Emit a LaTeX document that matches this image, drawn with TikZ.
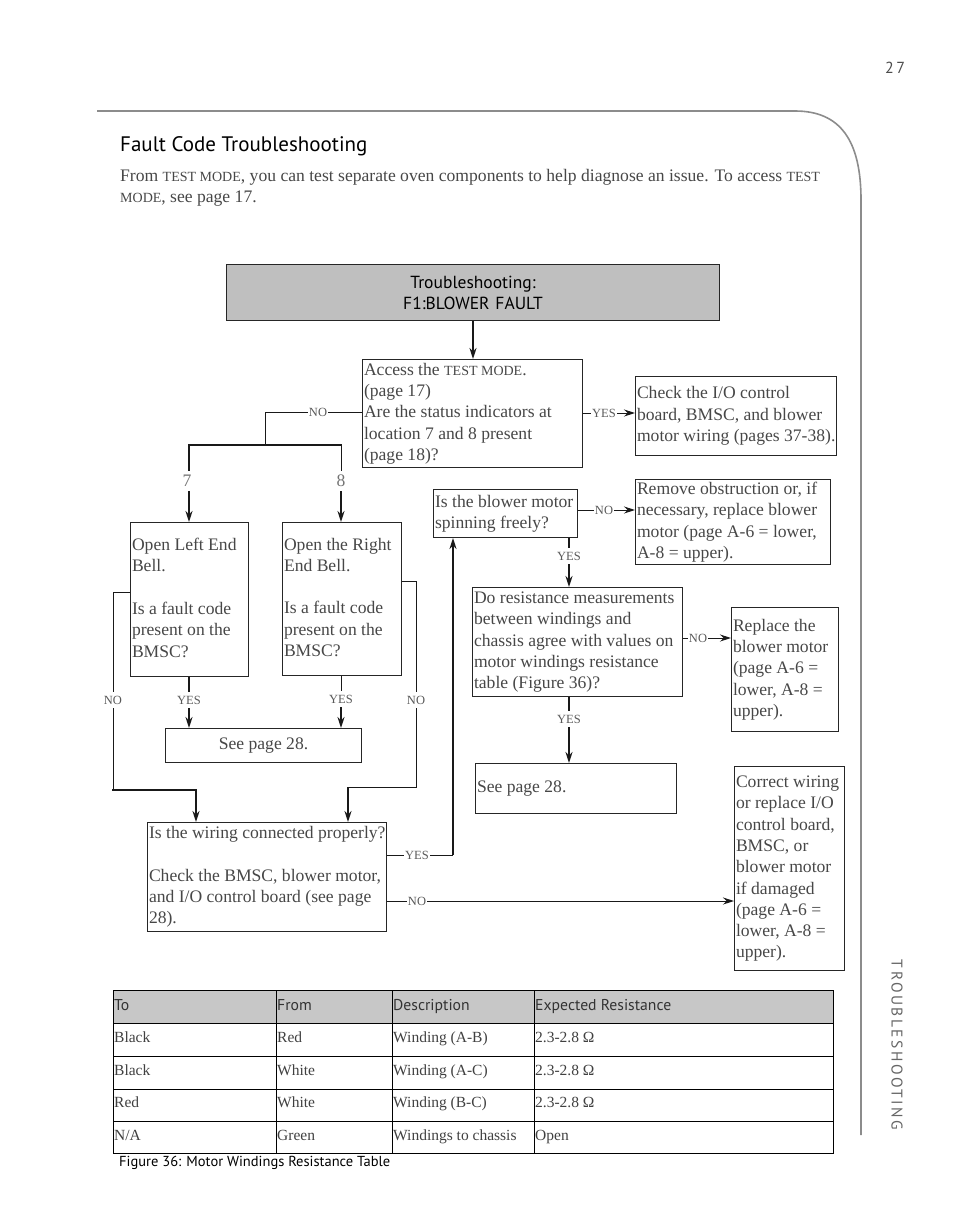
\documentclass[tikz,border=0pt]{standalone}
\usepackage{fontspec}
\setmainfont{Liberation Serif}
\newfontfamily\sansf{PT Sans}
\newfontfamily\sidef[LetterSpace=16]{PT Sans}
\usetikzlibrary{arrows.meta,calc}
\newcommand\bxfont{\fontsize{17.6}{21.3}\selectfont}
\newcommand\lbfont{\fontsize{12.5}{14}\selectfont}
\newcommand\smcA[1]{{\fontsize{14}{16}\selectfont #1}}
\newcommand\smcB[1]{{\fontsize{14}{16}\selectfont #1}}
\newcommand\bt[2]{\makebox[#1][l]{\begin{tabular}{@{}l@{}}#2\end{tabular}}}
\begin{document}
\begin{tikzpicture}[x=1pt,y=-1pt,
  box/.style={draw=black!85, line width=1pt, rectangle, inner xsep=1.5pt, inner ysep=0pt, anchor=north west, text=black!72, font=\bxfont},
  lab/.style={inner xsep=1pt, inner ysep=4pt, text=black!65, font=\lbfont},
  num/.style={inner sep=4pt, text=black!55, font=\bxfont},
  ln/.style={line width=1pt, draw=black!90},
  tk/.style={line width=2pt, draw=black!90},
  arr/.style={line width=2pt, draw=black!90, -{Stealth[length=11pt,width=7pt]}},
  arrt/.style={line width=1pt, draw=black!90, -{Stealth[length=11pt,width=7pt]}},
  th/.style={anchor=base west, inner sep=0pt, font=\sansf\fontsize{15.7}{18}\selectfont, text=black!80},
  td/.style={anchor=base west, inner sep=0pt, font=\fontsize{15.5}{18}\selectfont, text=black!75},
]
\useasboundingbox (0,0) rectangle (954,1207);

% page furniture
\node[text=black!70, font=\sidef\fontsize{16}{18}\selectfont] (pnum) at (895,68) {27};
\draw[black!45, line width=1.6pt] (97,111) -- (795,111) .. controls (840,111) and (861,140) .. (861,200) -- (861,1135);
\node[rotate=-90, text=black!60, font=\sidef\fontsize{15.5}{18}\selectfont] (side) at (897,1045) {TROUBLESHOOTING};

\node[anchor=west, inner sep=0pt, font=\sansf\fontsize{21}{24}\selectfont] (title) at (120,146) {Fault Code Troubleshooting};
\node[anchor=base west, inner sep=0pt, text=black!72, font=\fontsize{17.6}{21}\selectfont] (para1) at (120,181) {From \smcB{TEST MODE}, you can test separate oven components to help diagnose an issue. To access \smcB{TEST}};
\node[anchor=base west, inner sep=0pt, text=black!72, font=\fontsize{17.6}{21}\selectfont] (para2) at (120,202) {\smcB{MODE}, see page 17.};

% boxes
\node[box, minimum width=493pt, minimum height=56pt, fill=black!25, align=center, text width=488pt, text=black, font=\sansf\fontsize{17.5}{21}\selectfont] (top) at (226,264) {Troubleshooting:\\F1:BLOWER FAULT};
\node[box, minimum width=220pt, minimum height=108pt] (access) at (362,359) {\bt{217pt}{Access the \smcA{TEST MODE}.\\(page 17)\\Are the status indicators at\\location 7 and 8 present\\(page 18)?}};
\node[box, minimum width=201pt, minimum height=79pt] (check) at (635,376) {\bt{198pt}{Check the I/O control\\board, BMSC, and blower\\motor wiring (pages 37-38).}};
\node[box, minimum width=195pt, minimum height=85pt] (remove) at (635,479) {\bt{192pt}{Remove obstruction or, if\\necessary, replace blower\\motor (page A-6 = lower,\\A-8 = upper).}};
\node[box, minimum width=144pt, minimum height=48pt] (blower) at (433,489) {\bt{141pt}{Is the blower motor\\spinning freely?}};
\node[box, minimum width=118pt, minimum height=154pt] (leftbox) at (130,522) {\bt{115pt}{Open Left End\\Bell.\\ \\Is a fault code\\present on the\\BMSC?}};
\node[box, minimum width=119pt, minimum height=153pt] (rightbox) at (282,522) {\bt{116pt}{Open the Right\\End Bell.\\ \\Is a fault code\\present on the\\BMSC?}};
\node[box, minimum width=210pt, minimum height=109pt] (resist) at (472,587) {\bt{207pt}{Do resistance measurements\\between windings and\\chassis agree with values on\\motor windings resistance\\table (Figure 36)?}};
\node[box, minimum width=107pt, minimum height=124pt] (replace) at (731,607) {\bt{104pt}{Replace the\\blower motor\\(page A-6 =\\lower, A-8 =\\upper).}};
\node[box, minimum width=196pt, minimum height=34pt] (see1) at (165,728) {See page 28.};
\node[box, minimum width=201pt, minimum height=50pt] (see2) at (475,763) {\bt{198pt}{See page 28.}};
\node[box, minimum width=110pt, minimum height=204pt] (correct) at (734,766) {\bt{107pt}{Correct wiring\\or replace I/O\\control board,\\BMSC, or\\blower motor\\if damaged\\(page A-6 =\\lower, A-8 =\\upper).}};
\node[box, minimum width=239pt, minimum height=109pt] (wiring) at (147,822) {\bt{236pt}{Is the wiring connected properly?\\ \\Check the BMSC, blower motor,\\and I/O control board (see page\\28).}};

% top -> access
\draw[arr] (top.south) -- (top.south |- access.north);

% access YES
\node[lab] (y1) at (604,413) {YES};
\draw[ln] (access.east |- y1.west) -- (y1.west);
\draw[arrt] (y1.east) -- (check.west |- y1.east);

% access NO
\node[lab] (n1) at (318,412) {NO};
\draw[ln] (access.west |- n1.east) -- (n1.east);
\coordinate (s1) at (265,445);
\draw[ln] (n1.west) -| (s1);
\coordinate (c7) at (189,445);
\coordinate (c8) at (341,445);
\draw[tk, line cap=rect] (c7) -- (c8);
\node[num] (n7) at (187,481) {7};
\node[num] (n8) at (341,481) {8};
\draw[tk] (c7) -- (c7 |- n7.north);
\draw[ln] (c8) -- (c8 |- n8.north);
\draw[arr] (c7 |- n7.south) -- (c7 |- leftbox.north);
\draw[arr] (c8 |- n8.south) -- (c8 |- rightbox.north);

% left / right boxes YES
\node[lab] (yl) at (189,700) {YES};
\draw[tk] (leftbox.south -| yl) -- (yl.north);
\draw[arr] (yl.south) -- (yl.south |- see1.north);
\node[lab] (yr) at (341,699) {YES};
\draw[ln] (rightbox.south -| yr) -- (yr.north);
\draw[arr] (yr.south) -- (yr.south |- see1.north);

% left NO
\node[lab] (nl) at (113,700) {NO};
\coordinate (nlt) at (113,592);
\coordinate (nlb) at (113,790);
\coordinate (wl) at (196,790);
\draw[ln] (leftbox.west |- nlt) -- (nlt) -- (nl.north);
\draw[ln] (nl.south) -- (nlb);
\draw[tk, line cap=rect] (nlb) -- (wl);
\draw[arr] (wl) -- (wl |- wiring.north);

% right NO
\node[lab] (nr) at (416,700) {NO};
\coordinate (nrt) at (416,581);
\coordinate (nrb) at (416,787);
\coordinate (wr) at (348,787);
\draw[ln] (rightbox.east |- nrt) -- (nrt) -- (nr.north);
\draw[ln] (nr.south) -- (nrb) -- (wr);
\draw[arr] (wr) -- (wr |- wiring.north);

% wiring YES / NO
\node[lab] (yw) at (417,855) {YES};
\coordinate (yc) at (453,855);
\draw[ln] (wiring.east |- yw.west) -- (yw.west);
\draw[ln] (yw.east) -- (yc);
\draw[arr] (yc) -- (yc |- blower.south);
\node[lab] (nw) at (417,901) {NO};
\draw[ln] (wiring.east |- nw.west) -- (nw.west);
\draw[arrt] (nw.east) -- (correct.west |- nw.east);

% blower NO / YES
\node[lab] (nb) at (604,510) {NO};
\draw[ln] (blower.east |- nb.west) -- (nb.west);
\draw[arrt] (nb.east) -- (remove.west |- nb.east);
\node[lab] (yb) at (569,556) {YES};
\draw[tk] (yb.north |- blower.south) -- (yb.north);
\draw[arr] (yb.south) -- (yb.south |- resist.north);

% resistance NO / YES
\node[lab] (nres) at (698,638) {NO};
\draw[ln] (resist.east |- nres.west) -- (nres.west);
\draw[arrt] (nres.east) -- (replace.west |- nres.east);
\node[lab] (yres) at (569,719) {YES};
\draw[tk] (yres.north |- resist.south) -- (yres.north);
\draw[arr] (yres.south) -- (yres.south |- see2.north);

% table
\fill[black!22] (113,990) rectangle (833,1023);
\draw[line width=1pt] (113,990) rectangle (833,1153);
\foreach \yy in {1023,1056,1089,1121} \draw[line width=1pt] (113,\yy) -- (833,\yy);
\foreach \xx in {276,392,534} \draw[line width=1pt] (\xx,990) -- (\xx,1153);
\node[th] (h1) at (114,1010) {To};
\node[th] (h2) at (277,1010) {From};
\node[th] (h3) at (393,1010) {Description};
\node[th] (h4) at (535,1010) {Expected Resistance};
\node[td] (a1) at (114,1042) {Black};
\node[td] (a2) at (277,1042) {Red};
\node[td] (a3) at (393,1042) {Winding (A-B)};
\node[td] (a4) at (535,1042) {2.3-2.8 Ω};
\node[td] (b1) at (114,1075) {Black};
\node[td] (b2) at (277,1075) {White};
\node[td] (b3) at (393,1075) {Winding (A-C)};
\node[td] (b4) at (535,1075) {2.3-2.8 Ω};
\node[td] (c1) at (114,1107) {Red};
\node[td] (c2) at (277,1107) {White};
\node[td] (c3) at (393,1107) {Winding (B-C)};
\node[td] (c4) at (535,1107) {2.3-2.8 Ω};
\node[td] (d1) at (114,1140) {N/A};
\node[td] (d2) at (277,1140) {Green};
\node[td] (d3) at (393,1140) {Windings to chassis};
\node[td] (d4) at (535,1140) {Open};
\node[anchor=west, inner sep=0pt, font=\sansf\fontsize{14.5}{17}\selectfont] (cap) at (119,1163) {Figure 36: Motor Windings Resistance Table};
\end{tikzpicture}
\end{document}
